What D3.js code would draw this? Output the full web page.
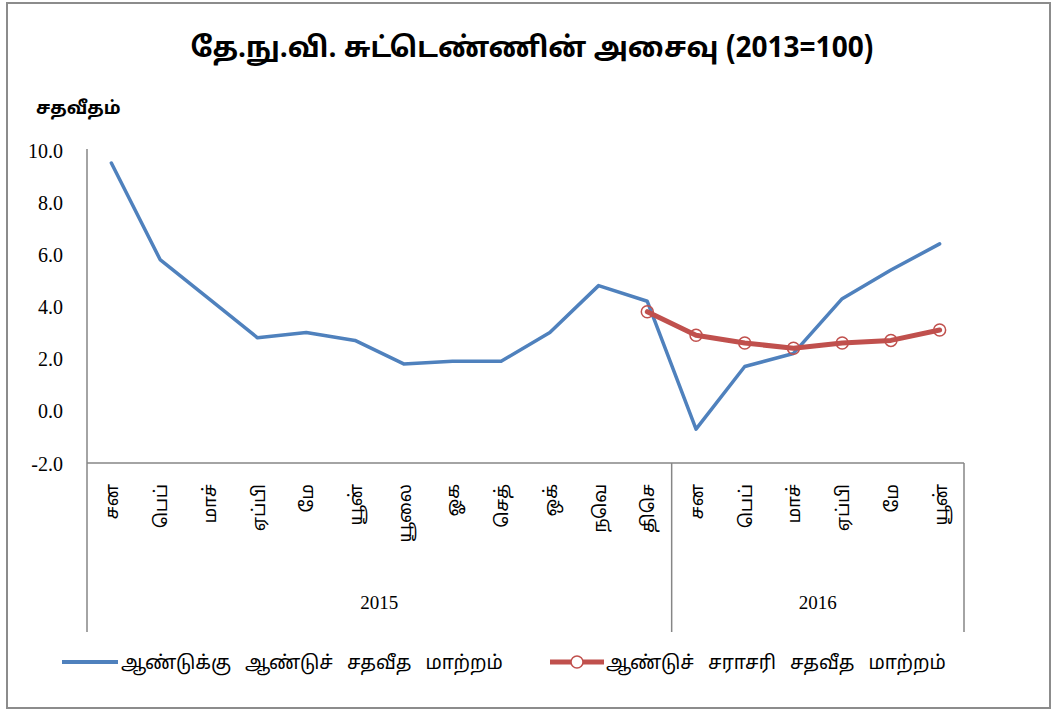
<!DOCTYPE html>
<html>
<head>
<meta charset="utf-8">
<script src="https://cdn.jsdelivr.net/npm/d3@7"></script>
<style>
  body { margin: 0; background: #fff; }
  .tamil { font-family: "Noto Sans Tamil", "Latha", "Noto Sans", sans-serif; }
  .num { font-family: "Liberation Serif", "Times New Roman", serif; }
</style>
</head>
<body>
<svg id="chart" width="1056" height="713"></svg>
<script>
var months = ['சன', 'பெப்', 'மாச்', 'ஏப்பி', 'மே', 'யூன்', 'யூலை', 'ஓக', 'செத்', 'ஒக்', 'நவெ', 'திசெ',
              'சன', 'பெப்', 'மாச்', 'ஏப்பி', 'மே', 'யூன்']
var years = [{label: '2015', start: 0, end: 12}, {label: '2016', start: 12, end: 18}]
var yoy = [9.5, 5.8, 4.3, 2.8, 3.0, 2.7, 1.8, 1.9, 1.9, 3.0, 4.8, 4.2, -0.7, 1.7, 2.2, 4.3, 5.4, 6.4]
var avg = [null, null, null, null, null, null, null, null, null, null, null, 3.8, 2.9, 2.6, 2.4, 2.6, 2.7, 3.1]
var yTicks = [-2, 0, 2, 4, 6, 8, 10]
var title = 'தே.நு.வி. சுட்டெண்ணின் அசைவு (2013=100)'
var yLabel = 'சதவீதம்'
var seriesNames = ['ஆண்டுக்கு ஆண்டுச் சதவீத மாற்றம்', 'ஆண்டுச் சராசரி சதவீத மாற்றம்']

var blue = '#4F81BD', red = '#C0504D', axisGray = '#868686'

var svg = d3.select('#chart')

// outer frame
svg.append('rect')
    .attr('x', 7).attr('y', 3)
    .attr('width', 1043).attr('height', 705)
    .attr('fill', 'none')
    .attr('stroke', '#8c8c8c')
    .attr('stroke-width', 2)

var x = d3.scaleBand()
    .domain(d3.range(months.length))
    .range([87, 964])
var cx = i => x(i) + x.bandwidth() / 2

var y = d3.scaleLinear()
    .domain([-2, 10])
    .range([463, 150])

// title
svg.append('text')
    .attr('class', 'tamil')
    .attr('x', 532).attr('y', 57)
    .attr('text-anchor', 'middle')
    .style('font-size', '28px')
    .style('font-weight', 'bold')
    .text(title)

svg.append('text')
    .attr('class', 'tamil')
    .attr('x', 36).attr('y', 114)
    .style('font-size', '18px')
    .style('font-weight', 'bold')
    .text(yLabel)

// y axis, hyphen minus like the original
var yAxis = d3.axisLeft(y)
    .tickValues(yTicks)
    .tickSize(0)
    .tickPadding(24)
    .tickFormat(d => d.toFixed(1))

svg.append('g')
    .attr('transform', 'translate(87,0)')
    .call(yAxis)
    .call(g => g.select('.domain').attr('stroke', axisGray).attr('stroke-width', 1.5).attr('d', `M0,${y(10) - 1}V${y(-2)}`))
    .call(g => g.selectAll('.tick text')
        .attr('class', 'num')
        .attr('fill', '#000')
        .style('font-size', '20px')
        .attr('dy', '0.35em'))

// x axis baseline
svg.append('line')
    .attr('x1', 87).attr('x2', 964)
    .attr('y1', y(-2)).attr('y2', y(-2))
    .attr('stroke', axisGray).attr('stroke-width', 1.5)

// year separators
var bounds = [0, 12, 18]
svg.append('g').selectAll('line')
    .data(bounds)
    .join('line')
    .attr('x1', d => x(0) + d * x.bandwidth())
    .attr('x2', d => x(0) + d * x.bandwidth())
    .attr('y1', y(-2)).attr('y2', 632)
    .attr('stroke', axisGray).attr('stroke-width', 1.5)

// month labels
svg.append('g').selectAll('text')
    .data(months)
    .join('text')
    .attr('class', 'tamil')
    .attr('transform', (d, i) => `translate(${cx(i) + 7},484) rotate(-90)`)
    .attr('text-anchor', 'end')
    .style('font-size', '18px')
    .text(d => d)

// year labels
svg.append('g').selectAll('text')
    .data(years)
    .join('text')
    .attr('class', 'num')
    .attr('x', d => x(0) + (d.start + d.end) / 2 * x.bandwidth())
    .attr('y', 609)
    .attr('text-anchor', 'middle')
    .style('font-size', '19px')
    .text(d => d.label)

// lines
var line = d3.line()
    .defined(d => d != null)
    .x((d, i) => cx(i))
    .y(d => y(d))

svg.append('path')
    .datum(yoy)
    .attr('d', line)
    .attr('fill', 'none')
    .attr('stroke', blue)
    .attr('stroke-width', 3.5)
    .attr('stroke-linejoin', 'round')
    .attr('stroke-linecap', 'round')

svg.append('path')
    .datum(avg)
    .attr('d', line)
    .attr('fill', 'none')
    .attr('stroke', red)
    .attr('stroke-width', 5)
    .attr('stroke-linejoin', 'round')
    .attr('stroke-linecap', 'round')

svg.append('g').selectAll('circle')
    .data(avg.map((v, i) => ({v, i})).filter(d => d.v != null))
    .join('circle')
    .attr('cx', d => cx(d.i))
    .attr('cy', d => y(d.v))
    .attr('r', 6)
    .attr('fill', 'none')
    .attr('stroke', red)
    .attr('stroke-width', 1.5)

// legend
var legend = svg.append('g')
legend.append('line')
    .attr('x1', 62).attr('x2', 118)
    .attr('y1', 662).attr('y2', 662)
    .attr('stroke', blue).attr('stroke-width', 4)
legend.append('text')
    .attr('class', 'tamil')
    .attr('x', 121).attr('y', 669)
    .style('font-size', '19px')
    .style('word-spacing', '9px')
    .text(seriesNames[0])
legend.append('line')
    .attr('x1', 550).attr('x2', 604)
    .attr('y1', 662).attr('y2', 662)
    .attr('stroke', red).attr('stroke-width', 5)
legend.append('circle')
    .attr('cx', 577).attr('cy', 662).attr('r', 6)
    .attr('fill', '#fff')
    .attr('stroke', red).attr('stroke-width', 1.5)
legend.append('text')
    .attr('class', 'tamil')
    .attr('x', 606).attr('y', 669)
    .style('font-size', '19px')
    .style('word-spacing', '9px')
    .text(seriesNames[1])
</script>
</body>
</html>
